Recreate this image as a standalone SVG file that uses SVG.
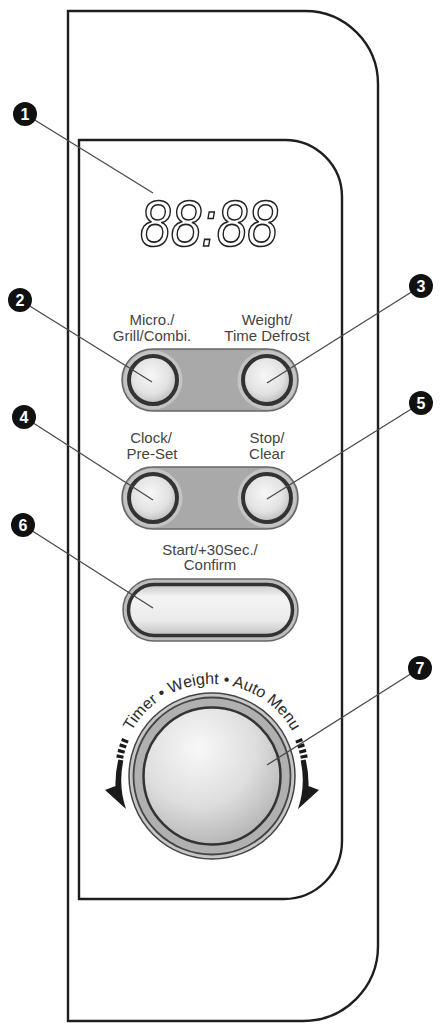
<svg xmlns="http://www.w3.org/2000/svg" width="440" height="1026" viewBox="0 0 440 1026">
<style>
.frame{fill:none;stroke:#1e1e1e;stroke-width:2.4}
.lbl{font-family:"Liberation Sans",Arial,sans-serif;font-size:15px;fill:#444;text-anchor:middle}
.lead{stroke:#4a4a4a;stroke-width:1.3;fill:none}
.badge circle{fill:#111}
.badge text{font-family:"Liberation Sans",Arial,sans-serif;font-weight:bold;font-size:16px;fill:#fff;text-anchor:middle}
.housing{fill:#a9a9a9;stroke:#666;stroke-width:1.5}
.bezel{fill:#c4c4c4}
.btn{fill:url(#btnGrad);stroke:#333;stroke-width:4}
.arrow{fill:#1a1a1a}
.dash{fill:none;stroke:#1a1a1a;stroke-width:7;stroke-dasharray:3.2 2.3}
</style>
<defs>
<radialGradient id="btnGrad" cx="45%" cy="40%" r="65%">
<stop offset="0" stop-color="#f7f7f7"/>
<stop offset="0.6" stop-color="#e2e2e2"/>
<stop offset="1" stop-color="#b4b4b4"/>
</radialGradient>
<radialGradient id="knobGrad" cx="40%" cy="30%" r="75%">
<stop offset="0" stop-color="#f8f8f8"/>
<stop offset="0.55" stop-color="#dedede"/>
<stop offset="1" stop-color="#b2b2b2"/>
</radialGradient>
<linearGradient id="startGrad" x1="0" y1="0" x2="0" y2="1">
<stop offset="0" stop-color="#c9c9c9"/>
<stop offset="0.25" stop-color="#f4f4f4"/>
<stop offset="0.7" stop-color="#ebebeb"/>
<stop offset="1" stop-color="#c2c2c2"/>
</linearGradient>
<path id="knobArc" d="M120,776 A92,92 0 0 1 304,776"/>
</defs>

<g id="panel">
<path class="frame" d="M68,11 H305 A73,73 0 0 1 378,84 V946 A75,75 0 0 1 303,1021 H68 Z"/>
<path class="frame" stroke-width="2" d="M79,140 H285 A57,57 0 0 1 342,197 V841 A58,58 0 0 1 284,899 H79 Z"/>
</g>

<g id="display">
<text x="140" y="246" textLength="138" lengthAdjust="spacingAndGlyphs" font-family="Liberation Sans, Arial, sans-serif" font-style="italic" font-size="64" fill="#fff" stroke="#222" stroke-width="1.6">88:88</text>
</g>

<g id="btn-pair-1">
<rect class="housing" x="122" y="349" width="176" height="62" rx="31"/>
<g id="btn-micro">
<circle class="bezel" cx="153" cy="380" r="29.5"/>
<circle class="btn" cx="153" cy="380" r="24"/>
<text class="lbl" x="152" y="325">Micro./</text>
<text class="lbl" x="152" y="341">Grill/Combi.</text>
</g>
<g id="btn-weight">
<circle class="bezel" cx="267" cy="380" r="29.5"/>
<circle class="btn" cx="267" cy="380" r="24"/>
<text class="lbl" x="267" y="325">Weight/</text>
<text class="lbl" x="267" y="341">Time Defrost</text>
</g>
</g>

<g id="btn-pair-2">
<rect class="housing" x="122" y="467" width="176" height="62" rx="31"/>
<g id="btn-clock">
<circle class="bezel" cx="153" cy="498" r="29.5"/>
<circle class="btn" cx="153" cy="498" r="24"/>
<text class="lbl" x="151" y="443">Clock/</text>
<text class="lbl" x="152" y="459">Pre-Set</text>
</g>
<g id="btn-stop">
<circle class="bezel" cx="267" cy="498" r="29.5"/>
<circle class="btn" cx="267" cy="498" r="24"/>
<text class="lbl" x="267" y="443">Stop/</text>
<text class="lbl" x="267" y="459">Clear</text>
</g>
</g>

<g id="btn-start">
<rect x="123" y="579" width="175" height="62" rx="31" fill="#bdbdbd" stroke="#666" stroke-width="1.5"/>
<rect x="128.5" y="584.5" width="164" height="51" rx="25.5" fill="url(#startGrad)" stroke="#333" stroke-width="3.5"/>
<text class="lbl" x="210" y="555">Start/+30Sec./</text>
<text class="lbl" x="210" y="570">Confirm</text>
</g>

<g id="knob">
<circle cx="212" cy="776" r="83" fill="#c6c6c6" stroke="#444" stroke-width="1.5"/>
<circle cx="212" cy="776" r="78.5" fill="#b0b0b0" stroke="#444" stroke-width="1.8"/>
<circle cx="212" cy="776" r="68.5" fill="url(#knobGrad)" stroke="#333" stroke-width="2.5"/>
<text font-family="Liberation Sans, Arial, sans-serif" font-size="16" fill="#2a2a2a" text-anchor="middle"><textPath href="#knobArc" startOffset="50%">Timer • Weight • Auto Menu</textPath></text>
<g id="arrow-right">
<path class="dash" d="M298.5,739.3 A94,94 0 0 1 304.3,758.1"/>
<path class="arrow" d="M300.6,760.4 L305.6,759.5 A96,96 0 0 1 308.5,786 L319,790 L298,809 A91,91 0 0 0 300.6,760.4 Z"/>
</g>
<g id="arrow-left" transform="matrix(-1 0 0 1 424 0)">
<path class="dash" d="M298.5,739.3 A94,94 0 0 1 304.3,758.1"/>
<path class="arrow" d="M300.6,760.4 L305.6,759.5 A96,96 0 0 1 308.5,786 L319,790 L298,809 A91,91 0 0 0 300.6,760.4 Z"/>
</g>
</g>

<g id="connectors">
<line class="lead" x1="25" y1="114" x2="153" y2="193"/>
<line class="lead" x1="20" y1="300" x2="152" y2="382"/>
<line class="lead" x1="421" y1="286" x2="267" y2="383"/>
<line class="lead" x1="24" y1="417" x2="153" y2="500"/>
<line class="lead" x1="421" y1="403" x2="267" y2="499"/>
<line class="lead" x1="23" y1="525" x2="153" y2="608"/>
<line class="lead" x1="420" y1="668" x2="267" y2="765"/>
</g>

<g id="badge-1" class="badge"><circle cx="25" cy="114" r="12"/><text x="25" y="119.5">1</text></g>
<g id="badge-2" class="badge"><circle cx="20" cy="300" r="12"/><text x="20" y="305.5">2</text></g>
<g id="badge-3" class="badge"><circle cx="421" cy="286" r="12"/><text x="421" y="291.5">3</text></g>
<g id="badge-4" class="badge"><circle cx="24" cy="417" r="12"/><text x="24" y="422.5">4</text></g>
<g id="badge-5" class="badge"><circle cx="421" cy="403" r="12"/><text x="421" y="408.5">5</text></g>
<g id="badge-6" class="badge"><circle cx="23" cy="525" r="12"/><text x="23" y="530.5">6</text></g>
<g id="badge-7" class="badge"><circle cx="420" cy="668" r="12"/><text x="420" y="673.5">7</text></g>
</svg>
